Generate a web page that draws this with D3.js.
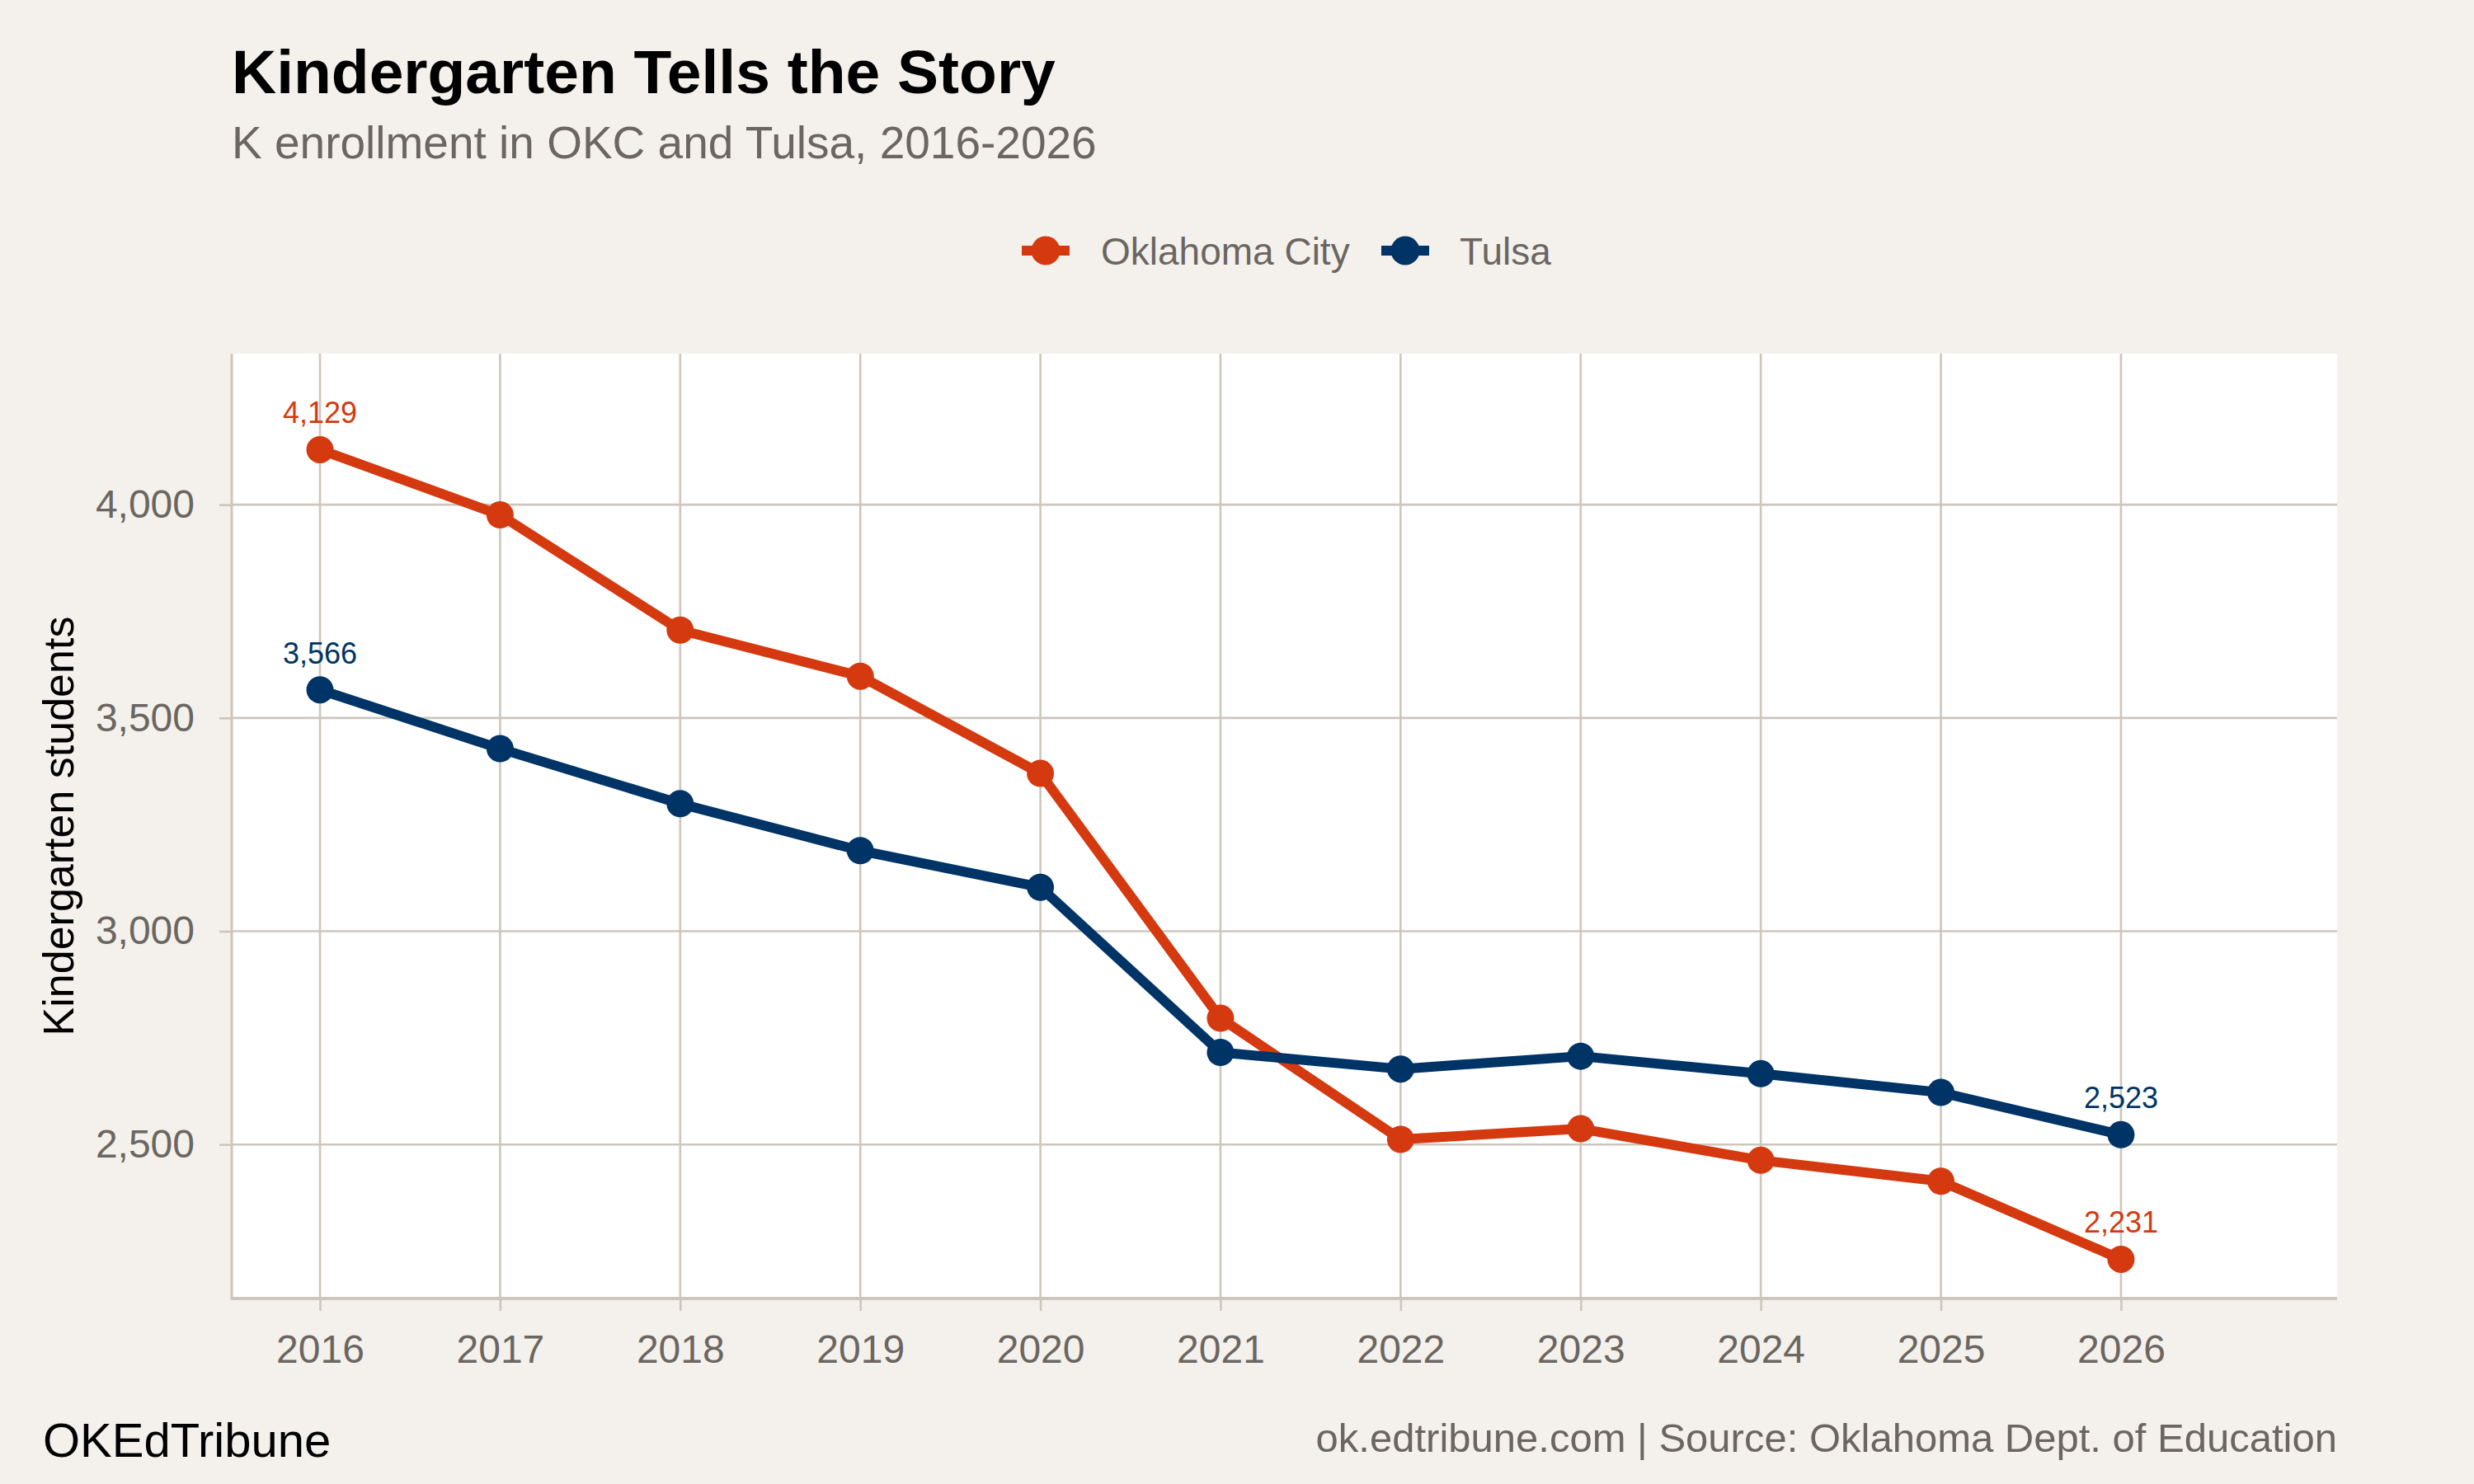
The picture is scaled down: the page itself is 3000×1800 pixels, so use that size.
<!DOCTYPE html>
<html>
<head>
<meta charset="utf-8">
<script src="https://cdn.jsdelivr.net/npm/d3@7"></script>
<style>
  html, body { margin: 0; padding: 0; background: #f4f1ec; }
  svg { display: block; font-family: "Liberation Sans", Arial, Helvetica, sans-serif; }
</style>
</head>
<body>
<script>
const years = [2016, 2017, 2018, 2019, 2020, 2021, 2022, 2023, 2024, 2025, 2026];
const okcValues = [4129, 3976, 3706, 3598, 3370, 2796, 2512, 2537, 2463, 2414, 2231];
const tulsaValues = [3566, 3428, 3299, 3189, 3103, 2716, 2677, 2707, 2666, 2622, 2523];
const seriesNames = ["Oklahoma City", "Tulsa"];
const yTicks = [2500, 3000, 3500, 4000];
const xTicks = years;

const W = 3000, H = 1800;
const colors = { "Oklahoma City": "#d4390f", "Tulsa": "#003466" };
const gray = "#6b6661";
const gridCol = "#cdc6bc";

const panel = { left: 281, right: 2834, top: 429, bottom: 1575 };

const svg = d3.select("body").append("svg").attr("width", W).attr("height", H);
svg.append("rect").attr("width", W).attr("height", H).attr("fill", "#f4f1ec");

const x = d3.scaleLinear().domain([2015.51, 2027.2]).range([panel.left, panel.right]);
const y = d3.scaleLinear().domain([2139, 4354]).range([panel.bottom, panel.top]);

// panel
svg.append("rect").attr("x", panel.left).attr("y", panel.top)
  .attr("width", panel.right - panel.left).attr("height", panel.bottom - panel.top)
  .attr("fill", "#ffffff");

// gridlines
const grid = svg.append("g");
grid.selectAll("line.v").data(xTicks).join("line")
  .attr("x1", d => x(d)).attr("x2", d => x(d))
  .attr("y1", panel.top).attr("y2", panel.bottom)
  .attr("stroke", gridCol).attr("stroke-width", 2.6);
grid.selectAll("line.h").data(yTicks).join("line")
  .attr("x1", panel.left).attr("x2", panel.right)
  .attr("y1", d => y(d)).attr("y2", d => y(d))
  .attr("stroke", gridCol).attr("stroke-width", 2.6);

// axes
const xAxis = svg.append("g").attr("transform", `translate(0,${panel.bottom})`)
  .call(d3.axisBottom(x).tickValues(xTicks).tickFormat(d3.format("d")).tickSize(15).tickPadding(29));
xAxis.select(".domain").remove();
xAxis.selectAll(".tick line").attr("stroke", gridCol).attr("stroke-width", 2.6);
xAxis.selectAll(".tick text").attr("fill", gray).attr("font-size", 48)
  .attr("font-family", '"Liberation Sans", Arial, sans-serif');

const yAxis = svg.append("g").attr("transform", `translate(${panel.left},0)`)
  .call(d3.axisLeft(y).tickValues(yTicks).tickFormat(d3.format(",")).tickSize(15).tickPadding(30));
yAxis.select(".domain").remove();
yAxis.selectAll(".tick line").attr("stroke", gridCol).attr("stroke-width", 2.6);
yAxis.selectAll(".tick text").attr("fill", gray).attr("font-size", 48)
  .attr("font-family", '"Liberation Sans", Arial, sans-serif');

// axis lines
svg.append("line").attr("x1", panel.left).attr("x2", panel.right)
  .attr("y1", panel.bottom).attr("y2", panel.bottom)
  .attr("stroke", gridCol).attr("stroke-width", 4);
svg.append("line").attr("x1", panel.left).attr("x2", panel.left)
  .attr("y1", panel.top).attr("y2", panel.bottom + 2)
  .attr("stroke", gridCol).attr("stroke-width", 3);

// series
const series = [
  { name: seriesNames[0], values: okcValues },
  { name: seriesNames[1], values: tulsaValues }
];
const line = d3.line().x((d, i) => x(years[i])).y(d => y(d));

series.forEach(s => {
  const g = svg.append("g");
  g.append("path").datum(s.values).attr("d", line)
    .attr("fill", "none").attr("stroke", colors[s.name]).attr("stroke-width", 12)
    .attr("stroke-linejoin", "round");
  g.selectAll("circle").data(s.values).join("circle")
    .attr("cx", (d, i) => x(years[i])).attr("cy", d => y(d)).attr("r", 16.5)
    .attr("fill", colors[s.name]);
  // labels at first and last
  const idxs = [0, s.values.length - 1];
  g.selectAll("text").data(idxs).join("text")
    .attr("x", i => x(years[i])).attr("y", i => y(s.values[i]) - 32)
    .attr("text-anchor", "middle").attr("font-size", 36)
    .attr("fill", colors[s.name])
    .text(i => d3.format(",")(s.values[i]));
});

// legend
const legendItems = [
  { name: seriesNames[0], cx: 1268, tx: 1335 },
  { name: seriesNames[1], cx: 1704, tx: 1770 }
];
const lg = svg.append("g");
legendItems.forEach(it => {
  lg.append("line").attr("x1", it.cx - 29).attr("x2", it.cx + 29)
    .attr("y1", 304).attr("y2", 304)
    .attr("stroke", colors[it.name]).attr("stroke-width", 12);
  lg.append("circle").attr("cx", it.cx).attr("cy", 304).attr("r", 17.5)
    .attr("fill", colors[it.name]);
  lg.append("text").attr("x", it.tx).attr("y", 321)
    .attr("font-size", 46).attr("fill", gray).text(it.name);
});

// titles
svg.append("text").attr("x", 281).attr("y", 113)
  .attr("font-size", 75).attr("font-weight", "bold").attr("fill", "#000")
  .text("Kindergarten Tells the Story");
svg.append("text").attr("x", 281).attr("y", 192)
  .attr("font-size", 55).attr("fill", gray)
  .text("K enrollment in OKC and Tulsa, 2016-2026");

// y axis title
svg.append("text")
  .attr("transform", `translate(89,${(panel.top + panel.bottom) / 2}) rotate(-90)`)
  .attr("text-anchor", "middle").attr("font-size", 52).attr("fill", "#000")
  .text("Kindergarten students");

// footer
svg.append("text").attr("x", 52).attr("y", 1767)
  .attr("font-size", 58).attr("fill", "#000").text("OKEdTribune");
svg.append("text").attr("x", 2834).attr("y", 1761)
  .attr("text-anchor", "end").attr("font-size", 49).attr("fill", gray)
  .text("ok.edtribune.com | Source: Oklahoma Dept. of Education");
</script>
</body>
</html>
